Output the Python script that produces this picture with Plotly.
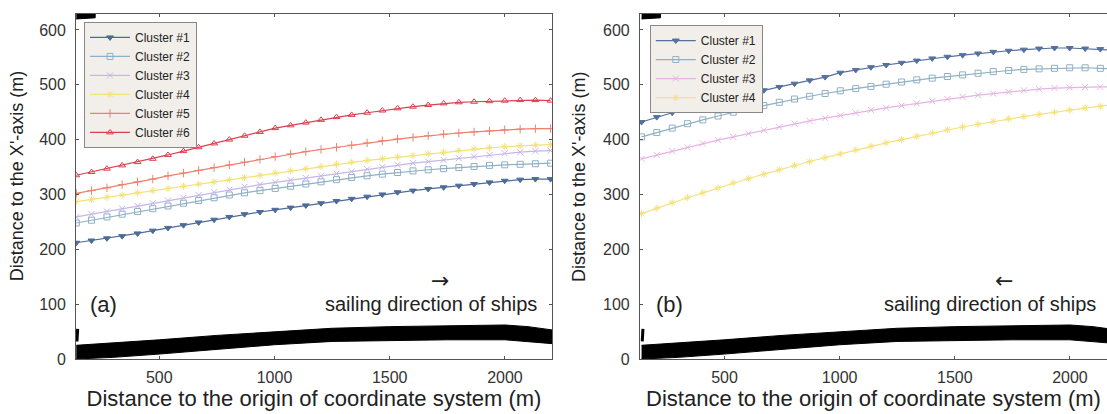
import plotly.graph_objects as go

# ---------------- data ----------------
X_PTS = [140, 206, 273, 339, 406, 472, 538, 605, 671, 738, 804, 870, 937, 1003, 1070, 1136,
         1202, 1269, 1335, 1402, 1468, 1534, 1601, 1667, 1734, 1800, 1866, 1933, 1999, 2066, 2132, 2198]

# panel (a)
A_C1 = [212, 216, 220, 224, 229, 234, 239, 244, 249, 254, 259, 264, 268, 272, 276, 280,
        284, 288, 292, 296, 300, 304, 307, 310, 313, 316, 319, 322, 325, 327, 328, 328]
A_C2 = [248, 253, 259, 264, 269, 274, 279, 284, 289, 294, 299, 303, 307, 311, 315, 319,
        323, 327, 331, 334, 337, 340, 343, 345, 347, 349, 351, 353, 354, 355, 356, 357]
A_C3 = [259, 264, 269, 274, 279, 284, 289, 294, 299, 304, 309, 314, 318, 322, 326, 330,
        334, 338, 342, 346, 350, 354, 357, 360, 363, 366, 369, 372, 375, 377, 379, 380]
A_C4 = [287, 291, 295, 299, 303, 307, 311, 315, 319, 323, 327, 331, 335, 339, 343, 347,
        351, 355, 359, 362, 365, 368, 371, 374, 377, 380, 383, 385, 387, 389, 390, 391]
A_C5 = [302, 307, 312, 318, 323, 328, 334, 339, 344, 349, 354, 359, 364, 369, 374, 378,
        382, 386, 390, 394, 398, 401, 404, 407, 410, 412, 414, 416, 418, 419, 420, 420]
A_C6 = [335, 341, 347, 353, 359, 365, 372, 379, 386, 393, 400, 407, 414, 421, 426, 431,
        436, 441, 445, 449, 453, 457, 460, 463, 466, 468, 469, 470, 471, 472, 472, 471]

# panel (b)
B_C1 = [432, 441, 449, 457, 464, 470, 477, 483, 490, 496, 502, 508, 514, 522, 527, 532,
        536, 540, 544, 548, 551, 554, 557, 560, 562, 564, 566, 567, 567, 566, 565, 563]
B_C2 = [405, 413, 421, 429, 436, 443, 450, 456, 462, 468, 474, 479, 484, 489, 493, 497,
        501, 505, 509, 512, 515, 518, 521, 524, 526, 528, 529, 530, 531, 531, 530, 529]
B_C3 = [365, 372, 379, 386, 393, 399, 405, 411, 417, 423, 429, 434, 439, 444, 449, 454,
        458, 462, 466, 470, 474, 478, 481, 484, 487, 490, 492, 494, 495, 496, 496, 496]
B_C4 = [265, 275, 285, 294, 303, 312, 321, 329, 337, 345, 353, 360, 367, 374, 381, 388,
        394, 400, 406, 412, 418, 423, 428, 433, 438, 442, 446, 450, 454, 458, 461, 464]

# river bank (black band near y = 0)
BAND_X = [140, 300, 500, 750, 1000, 1250, 1500, 1750, 2000, 2100, 2205]
BAND_TOP = [25, 29, 35, 43, 50, 56, 59, 61, 62, 59, 53]
BAND_BOT = [0, 3, 9, 17, 26, 32, 34, 35, 35, 32, 28]
# small mark on the left edge, and the opposite bank piece at the top
MARK_X = [143, 146]
MARK_Y = [32, 55]
TOPBANK_X = [140, 222, 222, 140]
TOPBANK_Y = [620, 622, 630, 630]

NAMES_A = ["Cluster #1", "Cluster #2", "Cluster #3", "Cluster #4", "Cluster #5", "Cluster #6"]
NAMES_B = ["Cluster #1", "Cluster #2", "Cluster #3", "Cluster #4"]

COL_A = ["#4d6b99", "#8fb0c4", "#c4b6ea", "#f2e27a", "#f0806c", "#d9414f"]
COL_B = ["#55709e", "#8fb0c4", "#e6b4e2", "#f4e27e"]
SYM = ["triangle-down", "square-open", "x-thin", "asterisk-open", "cross-thin", "triangle-up-open"]

FONT = "Liberation Sans, Arial, sans-serif"

fig = go.Figure()


def add_band(xa, ya):
    fig.add_trace(go.Scatter(x=BAND_X + BAND_X[::-1], y=BAND_TOP + BAND_BOT[::-1],
                             fill="toself", fillcolor="black", mode="lines",
                             line=dict(color="black", width=1), showlegend=False,
                             hoverinfo="skip", xaxis=xa, yaxis=ya))
    fig.add_trace(go.Scatter(x=MARK_X, y=MARK_Y, mode="lines",
                             line=dict(color="black", width=3), showlegend=False,
                             hoverinfo="skip", xaxis=xa, yaxis=ya))
    fig.add_trace(go.Scatter(x=TOPBANK_X, y=TOPBANK_Y, fill="toself", fillcolor="black",
                             mode="lines", line=dict(color="black", width=1), showlegend=False,
                             hoverinfo="skip", xaxis=xa, yaxis=ya))


add_band("x", "y")
add_band("x2", "y2")

for name, ys, c, s in zip(NAMES_A, [A_C1, A_C2, A_C3, A_C4, A_C5, A_C6], COL_A, SYM):
    fig.add_trace(go.Scatter(x=X_PTS, y=ys, name=name, mode="lines+markers",
                             line=dict(color=c, width=1.2),
                             marker=dict(symbol=s, size=6, color=c, line=dict(color=c, width=1)),
                             xaxis="x", yaxis="y", legend="legend"))

for name, ys, c, s in zip(NAMES_B, [B_C1, B_C2, B_C3, B_C4], COL_B, SYM):
    fig.add_trace(go.Scatter(x=X_PTS, y=ys, name=name, mode="lines+markers",
                             line=dict(color=c, width=1.2),
                             marker=dict(symbol=s, size=6, color=c, line=dict(color=c, width=1)),
                             xaxis="x2", yaxis="y2", legend="legend2"))

axis_common = dict(showline=True, linecolor="#555", linewidth=1, ticks="inside", ticklen=3,
                   tickcolor="#555", showgrid=False, zeroline=False, automargin=False,
                   tickfont=dict(family=FONT, size=16, color="#333"))

XT = "Distance to the origin of coordinate system (m)"
YT = "Distance to the X'-axis (m)"
XTF = dict(size=22, color="#222")
YTF = dict(family=FONT, size=18, color="#222")

fig.update_layout(
    template="none",
    width=1107, height=414,
    margin=dict(l=0, r=0, t=14, b=55),
    paper_bgcolor="white", plot_bgcolor="white",
    font=dict(family=FONT, color="#222"),
    xaxis=dict(domain=[0.0687, 0.4986], range=[139, 2204], tickvals=[500, 1000, 1500, 2000],
               mirror="ticks", ticklabelstandoff=4,
               title=dict(text=XT, font=XTF, standoff=0), **axis_common),
    yaxis=dict(domain=[0, 1], range=[0, 629], tickvals=[0, 100, 200, 300, 400, 500, 600],
               mirror="ticks", anchor="x", ticklabelstandoff=6, **axis_common),
    xaxis2=dict(domain=[0.5781, 1.0], range=[133, 2161], tickvals=[500, 1000, 1500, 2000],
                mirror="ticks", anchor="y2", ticklabelstandoff=4,
                title=dict(text=XT, font=XTF, standoff=0), **axis_common),
    yaxis2=dict(domain=[0, 1], range=[0, 629], tickvals=[0, 100, 200, 300, 400, 500, 600],
                mirror=False, anchor="x2", ticklabelstandoff=6, **axis_common),
    legend=dict(x=0.0759, y=0.977, xanchor="left", yanchor="top",
                bgcolor="#f2efea", bordercolor="#888", borderwidth=1,
                font=dict(family=FONT, size=12, color="#222"), itemwidth=40,
                tracegroupgap=0),
    legend2=dict(x=0.587, y=0.968, xanchor="left", yanchor="top",
                 bgcolor="#f2efea", bordercolor="#888", borderwidth=1,
                 font=dict(family=FONT, size=12, color="#222"), itemwidth=40,
                 tracegroupgap=0),
    annotations=[
        dict(text=YT, x=0.0154, y=0.530, xref="paper", yref="paper", textangle=-90,
             showarrow=False, xanchor="center", yanchor="middle", font=YTF),
        dict(text=YT, x=0.523, y=0.530, xref="paper", yref="paper", textangle=-90,
             showarrow=False, xanchor="center", yanchor="middle", font=YTF),
        dict(text="(a)", x=256, y=100, xref="x", yref="y", showarrow=False,
             font=dict(size=22, color="#222")),
        dict(text="sailing direction of ships", x=2148, y=100, xref="x", yref="y",
             xanchor="right", showarrow=False, font=dict(size=20, color="#222")),
        dict(text="→", x=1718, y=143, xref="x", yref="y", showarrow=False,
             font=dict(family="DejaVu Sans", size=22, color="#222")),
        dict(text="(b)", x=263, y=100, xref="x2", yref="y2", showarrow=False,
             font=dict(size=22, color="#222")),
        dict(text="sailing direction of ships", x=2122, y=100, xref="x2", yref="y2",
             xanchor="right", showarrow=False, font=dict(size=20, color="#222")),
        dict(text="←", x=1714, y=143, xref="x2", yref="y2", showarrow=False,
             font=dict(family="DejaVu Sans", size=22, color="#222")),
    ],
)

fig.write_html("out.html")
